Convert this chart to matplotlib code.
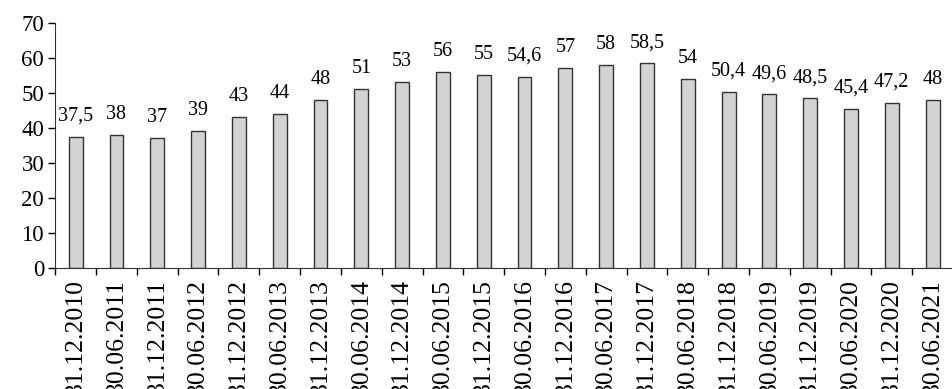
import numpy as np
import matplotlib.pyplot as plt

dates = ["31.12.2010", "30.06.2011", "31.12.2011", "30.06.2012", "31.12.2012",
         "30.06.2013", "31.12.2013", "30.06.2014", "31.12.2014", "30.06.2015",
         "31.12.2015", "30.06.2016", "31.12.2016", "30.06.2017", "31.12.2017",
         "30.06.2018", "31.12.2018", "30.06.2019", "31.12.2019", "30.06.2020",
         "31.12.2020", "30.06.2021"]
values = [37.5, 38, 37, 39, 43, 44, 48, 51, 53, 56, 55, 54.6, 57, 58, 58.5,
          54, 50.4, 49.6, 48.5, 45.4, 47.2, 48]

plt.rcParams['font.family'] = ['Liberation Serif', 'DejaVu Serif']

fig = plt.figure(figsize=(9.53, 3.89), dpi=100)
ax = fig.add_axes([0.058, 0.311, 0.942, 0.63])

x = np.arange(len(values))
bars = ax.bar(x, values, width=0.34, color='#d3d3d3', edgecolor='#333333', linewidth=1)

for xi, v in zip(x, values):
    txt = ('%g' % v).replace('.', ',')
    ax.annotate(txt, (xi, v), xytext=(0, 8), textcoords='offset points',
                ha='center', va='bottom', fontsize=14.5)

ax.set_xlim(-0.5, len(values) - 0.5)
ax.set_ylim(0, 70)
ax.set_yticks(range(0, 71, 10))
ax.tick_params(axis='y', labelsize=16.5, length=5, width=1, pad=3)

ax.set_xticks(x)
ax.set_xticklabels(dates, rotation=90, fontsize=18.5)
ax.tick_params(axis='x', which='major', length=0, pad=8)
ax.set_xticks(np.arange(-0.5, len(values), 1.0), minor=True)
ax.tick_params(axis='x', which='minor', length=5, width=1, direction='out')

ax.spines['top'].set_visible(False)
ax.spines['right'].set_visible(False)
ax.spines['left'].set_color('#333333')
ax.spines['bottom'].set_color('#333333')

fig.savefig('out.png', dpi=100)
